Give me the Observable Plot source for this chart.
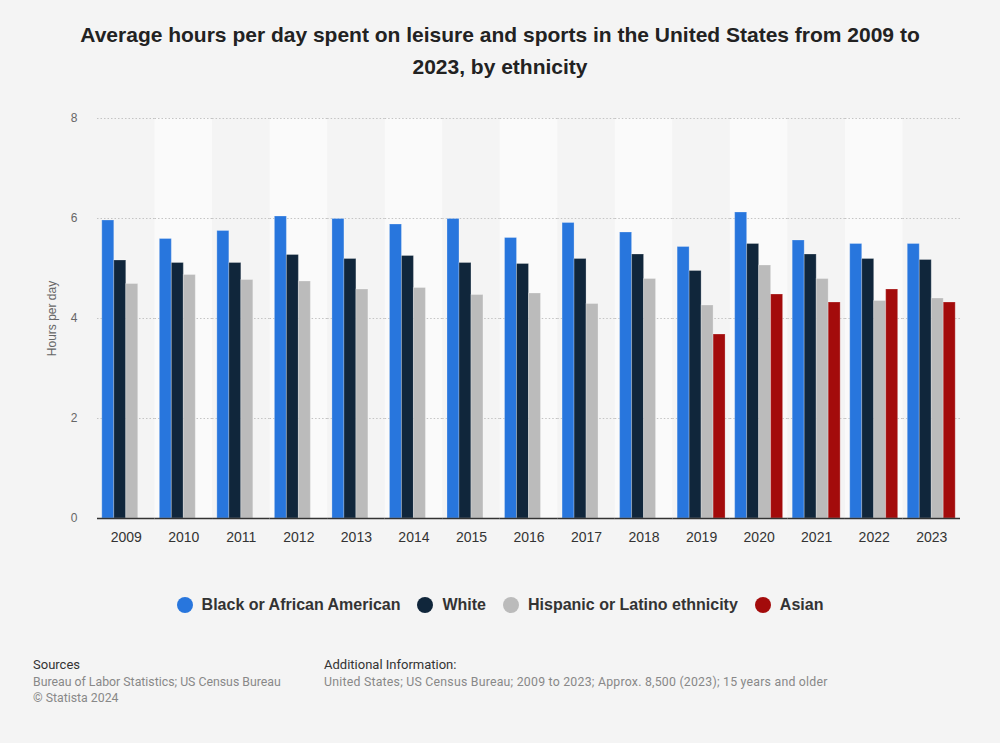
<!DOCTYPE html>
<html><head><meta charset="utf-8">
<script src="https://cdn.jsdelivr.net/npm/d3@7"></script>
<script src="https://cdn.jsdelivr.net/npm/@observablehq/plot@0.6"></script>
<style>
body{margin:0;background:#f4f4f4;font-family:"Liberation Sans",Arial,sans-serif;width:1000px;height:743px;position:relative;overflow:hidden}
#title{position:absolute;top:19px;left:0;width:1000px;text-align:center;font-weight:bold;font-size:21px;line-height:32px;color:#222}
#chart{position:absolute;top:0;left:0}
#legend{position:absolute;top:596px;left:0;width:1000px;display:flex;justify-content:center;gap:17px;font-weight:bold;font-size:16px;color:#333}
#legend .it{display:flex;align-items:center;gap:9px}
#legend .dot{width:16px;height:16px;border-radius:50%;display:inline-block}
.foot{position:absolute;font-family:Roboto,"Liberation Sans",sans-serif;font-size:12.3px;line-height:16.5px;color:#888}
.foot b{font-weight:normal;color:#333;font-size:13px;display:block;margin-bottom:0px}
</style></head>
<body>
<div id="title">Average hours per day spent on leisure and sports in the United States from 2009 to<br>2023, by ethnicity</div>
<div id="chart"></div>
<div id="legend"></div>
<div class="foot" style="left:33px;top:657px"><b>Sources</b>Bureau of Labor Statistics; US Census Bureau<br>© Statista 2024</div>
<div class="foot" style="left:324px;top:657px;letter-spacing:0.23px"><b style="letter-spacing:0">Additional Information:</b>United States; US Census Bureau; 2009 to 2023; Approx. 8,500 (2023); 15 years and older</div>
<script>
const years = ["2009","2010","2011","2012","2013","2014","2015","2016","2017","2018","2019","2020","2021","2022","2023"];
const series = ["Black or African American","White","Hispanic or Latino ethnicity","Asian"];
const colors = ["#2876dd","#10263b","#bbbbbb","#a30b0b"];
const black    = [5.96,5.59,5.75,6.04,5.99,5.88,5.99,5.61,5.91,5.72,5.43,6.12,5.56,5.49,5.49];
const white    = [5.16,5.11,5.11,5.27,5.19,5.25,5.11,5.09,5.19,5.28,4.95,5.49,5.28,5.19,5.17];
const hispanic = [4.69,4.87,4.77,4.74,4.58,4.61,4.47,4.50,4.29,4.79,4.26,5.06,4.79,4.35,4.40];
const asian    = [null,null,null,null,null,null,null,null,null,null,3.68,4.48,4.32,4.58,4.32];
const yTicks = [0,2,4,6,8];
const yMax = 8;

const valuesBySeries = [black, white, hispanic, asian];
const table = [];
years.forEach((yr, i) => {
  series.forEach((s, j) => {
    const v = valuesBySeries[j][i];
    if (v != null) table.push({year: yr, series: s, value: v});
  });
});
const lightYears = years.filter((d, i) => i % 2 === 1);

const chart = Plot.plot({
  width: 1000, height: 560,
  marginTop: 118, marginBottom: 42, marginLeft: 97, marginRight: 40,
  style: {background: "transparent", fontFamily: "'Liberation Sans', Arial, sans-serif"},
  fx: {domain: years, padding: 0, round: false, label: null},
  x: {domain: series, paddingInner: 0, paddingOuter: 0.4, round: false, axis: null},
  y: {domain: [0, yMax]},
  color: {domain: series, range: colors},
  marks: [
    Plot.barY(lightYears, {fx: d => d, y1: 0, y2: yMax, fill: "#fafafa"}),
    Plot.gridY(yTicks.filter(d => d > 0), {stroke: "#c4c4c4", strokeOpacity: 1, strokeDasharray: "1.5,2"}),
    Plot.barY(table, {fx: "year", x: "series", y: "value", fill: "series", stroke: "#ffffff", strokeOpacity: 0.25, strokeWidth: 1}),
    Plot.ruleY([0], {stroke: "#333", strokeWidth: 1.5}),
    Plot.axisY({ticks: yTicks, tickSize: 0, tickPadding: 20, fontSize: 12, fill: "#666",
      label: "Hours per day", labelAnchor: "center", labelOffset: 50, labelArrow: "none"}),
    Plot.axisFx({anchor: "bottom", tickSize: 0, tickPadding: 14, fontSize: 14, fill: "#333", label: null})
  ]
});
document.getElementById("chart").appendChild(chart);

const legend = document.getElementById("legend");
series.forEach((s, i) => {
  const it = document.createElement("span");
  it.className = "it";
  it.innerHTML = `<span class="dot" style="background:${colors[i]}"></span>${s}`;
  legend.appendChild(it);
});
</script>
</body></html>
